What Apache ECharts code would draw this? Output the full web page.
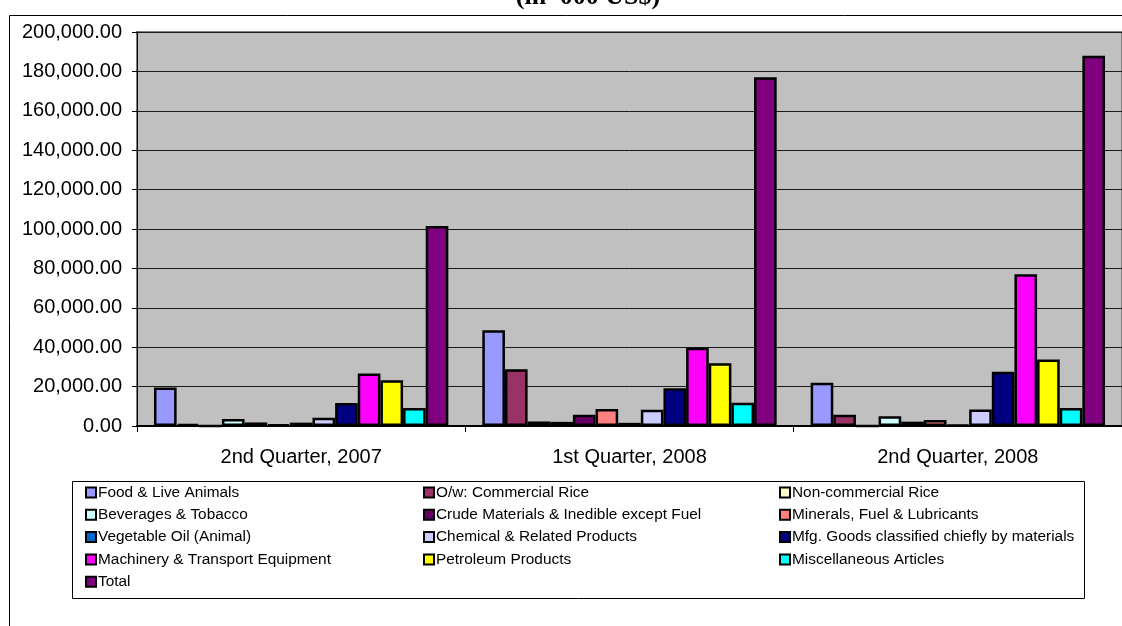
<!DOCTYPE html>
<html>
<head>
<meta charset="utf-8">
<script src="https://cdn.jsdelivr.net/npm/echarts@6/dist/echarts.min.js"></script>
<style>
  html, body { margin: 0; padding: 0; background: #fff; }
  #chart { width: 1122px; height: 626px; }
</style>
</head>
<body>
<div id="chart"></div>
<script>
// Quarterly values, in '000 US$
const quarters = ['2nd Quarter, 2007', '1st Quarter, 2008', '2nd Quarter, 2008'];

const foodLiveAnimals   = [19500, 48600, 22000];
const commercialRice    = [1000, 28800, 5700];
const nonCommercialRice = [0, 2300, 0];
const beveragesTobacco  = [3500, 2100, 4900];
const crudeMaterials    = [1800, 5700, 2200];
const mineralsFuel      = [800, 8600, 3000];
const vegetableOil      = [1700, 1600, 500];
const chemicalProducts  = [4200, 8300, 8400];
const mfgGoods          = [11700, 19100, 27600];
const machineryTransport= [26700, 39700, 77000];
const petroleumProducts = [23200, 31800, 33700];
const miscArticles      = [9100, 11800, 9100];
const totals            = [101500, 177000, 188000];

const yTicks = { min: 0, max: 200000, step: 20000 };

const seriesDefs = [
  ['Food & Live Animals', foodLiveAnimals, '#9999FF'],
  ['O/w: Commercial Rice', commercialRice, '#993366'],
  ['Non-commercial Rice', nonCommercialRice, '#FFFFCC'],
  ['Beverages & Tobacco', beveragesTobacco, '#CCFFFF'],
  ['Crude Materials & Inedible except Fuel', crudeMaterials, '#660066'],
  ['Minerals, Fuel & Lubricants', mineralsFuel, '#FF8080'],
  ['Vegetable Oil (Animal)', vegetableOil, '#0066CC'],
  ['Chemical & Related Products', chemicalProducts, '#CCCCFF'],
  ['Mfg. Goods classified chiefly by materials', mfgGoods, '#000080'],
  ['Machinery & Transport Equipment', machineryTransport, '#FF00FF'],
  ['Petroleum Products', petroleumProducts, '#FFFF00'],
  ['Miscellaneous Articles', miscArticles, '#00FFFF'],
  ['Total', totals, '#800080']
];

const FONT = '"Liberation Sans", Arial, sans-serif';

function fmt(v) {
  const s = Math.round(v).toString().replace(/\B(?=(\d{3})+(?!\d))/g, ',');
  return s + '.00';
}

const names = seriesDefs.map(d => d[0]);
// three legend columns, filled row by row
const cols = [[], [], []];
names.forEach((n, i) => cols[i % 3].push(n));
const colLeft = [85, 423, 779];

const legendBase = {
  orient: 'vertical',
  top: 485,
  padding: 0,
  itemWidth: 10,
  itemHeight: 10,
  itemGap: 7.3,
  icon: 'rect',
  selectedMode: false,
  textStyle: { fontFamily: FONT, fontSize: 15.4, color: '#000', lineHeight: 15, padding: [0, 0, 0, -3] },
  itemStyle: { borderColor: '#000', borderWidth: 2 }
};

const chart = echarts.init(document.getElementById('chart'), null, { renderer: 'canvas' });

chart.setOption({
  animation: false,
  backgroundColor: '#fff',
  graphic: [
    { type: 'rect', shape: { x: 9.5, y: 15.5, width: 1130, height: 640 },
      style: { fill: 'none', stroke: '#000', lineWidth: 1 }, z: -10 },
    { type: 'rect', shape: { x: 72.5, y: 481.5, width: 1012, height: 117 },
      style: { fill: '#fff', stroke: '#000', lineWidth: 1 }, z: -5 },
    { type: 'text', x: 588, y: -3,
      style: { text: "(in '000 US$)", font: 'bold 26px "Liberation Serif", "Times New Roman", serif',
               fill: '#000', textAlign: 'center', textVerticalAlign: 'middle' } }
  ],
  legend: cols.map((c, i) => Object.assign({}, legendBase, { left: colLeft[i], data: c })),
  grid: {
    left: 137, top: 32, width: 993, height: 394,
    show: true, backgroundColor: '#C0C0C0', borderColor: '#808080', borderWidth: 2
  },
  xAxis: {
    type: 'category',
    data: quarters,
    axisLine: { lineStyle: { color: '#000', width: 2 } },
    axisTick: { show: true, inside: false, length: 6, alignWithLabel: false, lineStyle: { color: '#000' } },
    axisLabel: { fontFamily: FONT, fontSize: 20, color: '#000', margin: 21 }
  },
  yAxis: {
    type: 'value',
    min: yTicks.min, max: yTicks.max, interval: yTicks.step,
    axisLine: { show: true, lineStyle: { color: '#000', width: 1 } },
    axisTick: { show: true, length: 5, lineStyle: { color: '#000' } },
    axisLabel: { fontFamily: FONT, fontSize: 20, color: '#000', margin: 15, formatter: fmt },
    splitLine: { show: true, lineStyle: { color: '#1a1a1a', width: 1 } }
  },
  series: seriesDefs.map(d => ({
    name: d[0],
    type: 'bar',
    data: d[1],
    barGap: '0%',
    barCategoryGap: '10.345%',
    itemStyle: { color: d[2], borderColor: '#000', borderWidth: 2.5 }
  }))
});
</script>
</body>
</html>
